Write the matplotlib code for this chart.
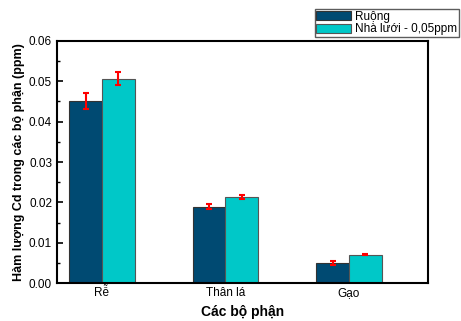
import matplotlib.pyplot as plt
import numpy as np

plt.rcParams['font.family'] = ['Liberation Sans', 'DejaVu Sans']

# Cd content per plant part (ppm)
parts = ['Rễ', 'Thân lá', 'Gạo']
ruong = [0.0452, 0.0189, 0.0050]
ruong_err = [0.0020, 0.0006, 0.0005]
nha_luoi = [0.0506, 0.0213, 0.0071]
nha_luoi_err = [0.0016, 0.0005, 0.0002]
series_names = ['Ruộng', 'Nhà lưới - 0,05ppm']

fig = plt.figure(figsize=(4.61, 3.21), dpi=100)
ax = fig.add_axes([0.1236, 0.1174, 0.8048, 0.7556])

x = np.arange(len(parts))
w = 0.265
err_kw = dict(ecolor='red', elinewidth=1.5, capsize=2.5, capthick=1.5)
b1 = ax.bar(x - w / 2, ruong, w, yerr=ruong_err, color='#004a72',
            edgecolor='#333333', linewidth=0.8, error_kw=err_kw)
b2 = ax.bar(x + w / 2, nha_luoi, w, yerr=nha_luoi_err, color='#00c8c8',
            edgecolor='#555555', linewidth=0.8, error_kw=err_kw)

ax.set_xlim(-0.364, 2.64)
ax.set_ylim(0, 0.06)
ax.set_xticks(x)
ax.set_xticklabels(parts)
ax.set_yticks(np.arange(0, 0.061, 0.01))
ax.set_yticklabels(['%.2f' % v for v in np.arange(0, 0.061, 0.01)])
ax.set_yticks(np.arange(0.005, 0.06, 0.01), minor=True)
ax.tick_params(axis='y', which='major', direction='in', length=4, width=1.2, labelsize=8.5)
ax.tick_params(axis='y', which='minor', direction='in', length=2.5, width=1)
ax.tick_params(axis='x', length=0, labelsize=8.5, pad=3)
for s in ax.spines.values():
    s.set_linewidth(1.5)

ax.set_xlabel('Các bộ phận', fontsize=10, fontweight='bold', labelpad=4)
ax.set_ylabel('Hàm lượng Cd trong các bộ phận (ppm)', fontsize=9,
              fontweight='bold', labelpad=3)

fig.legend([b1, b2], series_names, loc='upper right',
           bbox_to_anchor=(0.996, 0.972), fontsize=8.5, frameon=True,
           fancybox=False, edgecolor='#333333', borderpad=0.15,
           handlelength=2.9, handleheight=0.8, handletextpad=0.4,
           labelspacing=0.05, borderaxespad=0)

fig.savefig('out.png', dpi=100)
